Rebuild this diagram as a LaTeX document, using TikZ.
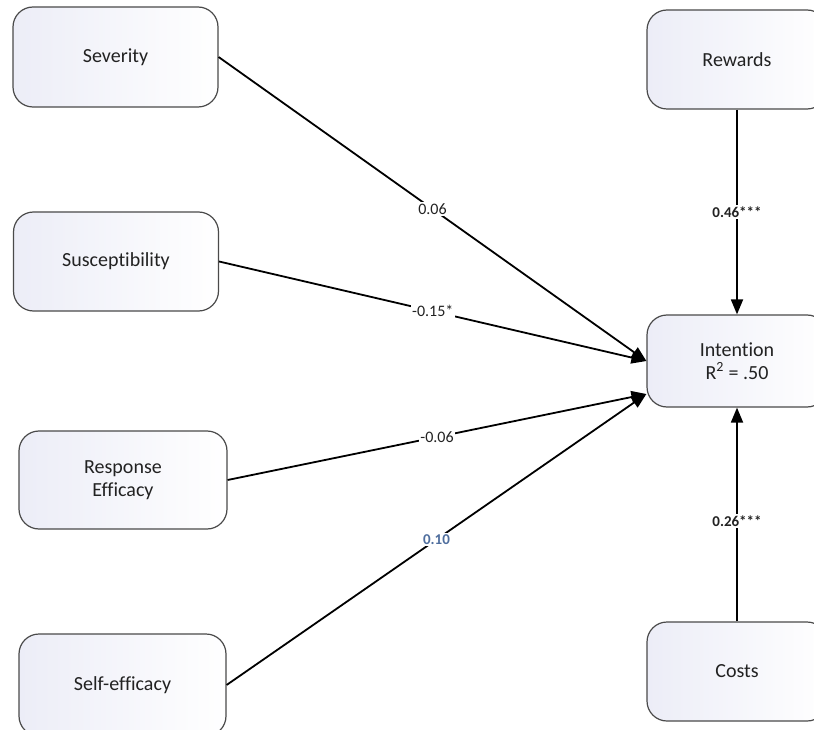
\documentclass[tikz,border=0pt]{standalone}
\usepackage{fontspec}
\setmainfont{Carlito}[Ligatures=NoCommon]
\usetikzlibrary{arrows.meta}
\definecolor{boxline}{HTML}{4A4A4A}
\definecolor{boxshade}{HTML}{ECEDF7}
\definecolor{txt}{HTML}{222222}
\definecolor{bluelab}{HTML}{4F6E9E}
\begin{document}
\begin{tikzpicture}[x=1pt,y=-1pt,
  construct/.style={draw=boxline, line width=1.2pt, rounded corners=20pt,
    left color=boxshade, right color=white, text=txt,
    font=\fontsize{20}{23}\selectfont, align=center, inner sep=0pt},
  leftbox/.style={construct, minimum width=205pt, minimum height=100pt},
  rightbox/.style={construct, minimum width=180pt, minimum height=99pt},
  path/.style={draw=black, line width=1.8pt, -{Triangle[length=15pt,width=12pt]}},
  coef/.style={fill=white, inner sep=1.5pt, text=txt, font=\fontsize{16}{18}\selectfont},
  coefb/.style={coef, font=\bfseries\fontsize{15}{17}\selectfont}
]
\useasboundingbox (0,0) rectangle (814,730);
\clip (0,0) rectangle (814,730);

% exogenous constructs
\node[leftbox] (sev) at (115.5,57) {Severity};
\node[leftbox, minimum height=99pt] (sus) at (116,261.5) {Susceptibility};
\node[leftbox, minimum width=208pt, minimum height=98pt] (res) at (123,480) {Response\\Efficacy};
\node[leftbox, minimum width=207pt, minimum height=102pt] (self) at (122.5,685) {Self-efficacy};

% right column
\node[rightbox] (rew) at (737,59.5) {Rewards};
\node[rightbox, minimum height=92pt] (int) at (737,361) {Intention\\R\textsuperscript{2} = .50};
\node[rightbox] (cost) at (737,671.5) {Costs};

\coordinate (inU) at (int.west);
\coordinate (inL) at ([yshift=-33pt]int.west);

% structural paths
\draw[path] (sev.east) -- node[coef, pos=0.5] {0.06} (inU);
\draw[path] (sus.east) -- node[coef, pos=0.5] {-0.15*} (inU);
\draw[path] (res.east) -- node[coef, pos=0.5] {-0.06} (inL);
\draw[path] (self.east) -- node[coefb, pos=0.5, text=bluelab] {0.10} (inL);
\draw[path] (rew.south) -- node[coefb, pos=0.5] {0.46***} (int.north);
\draw[path] (cost.north) -- node[coefb, pos=0.47] {0.26***} (int.south);
\end{tikzpicture}
\end{document}
